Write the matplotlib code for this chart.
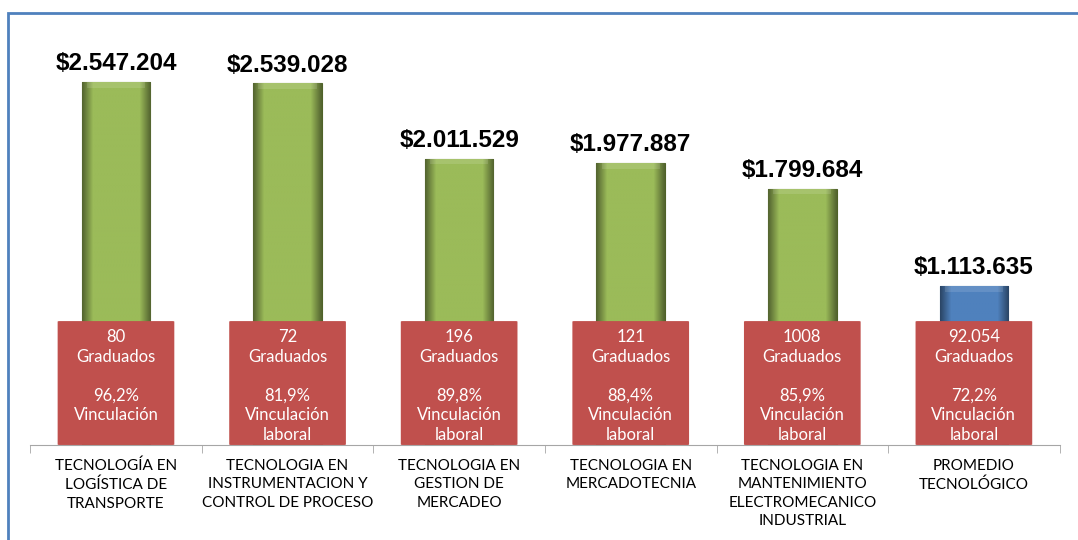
import matplotlib.pyplot as plt
import numpy as np
from matplotlib.colors import to_rgb
from matplotlib.patches import Rectangle, FancyBboxPatch

categories = ["TECNOLOGÍA EN\nLOGÍSTICA DE\nTRANSPORTE",
              "TECNOLOGIA EN\nINSTRUMENTACION Y\nCONTROL DE PROCESO",
              "TECNOLOGIA EN\nGESTION DE\nMERCADEO",
              "TECNOLOGIA EN\nMERCADOTECNIA",
              "TECNOLOGIA EN\nMANTENIMIENTO\nELECTROMECANICO\nINDUSTRIAL",
              "PROMEDIO\nTECNOLÓGICO"]
salaries = [2547204, 2539028, 2011529, 1977887, 1799684, 1113635]
graduados = ["80", "72", "196", "121", "1008", "92.054"]
vinculacion = ["96,2%", "81,9%", "89,8%", "88,4%", "85,9%", "72,2%"]
vinc_text = ["Vinculación", "Vinculación\nlaboral", "Vinculación\nlaboral",
             "Vinculación\nlaboral", "Vinculación\nlaboral", "Vinculación\nlaboral"]
box_height = 870000

def fmt(v):
    return "$" + format(v, ",").replace(",", ".")

x = np.arange(len(categories))
colors = ['#9BBB59'] * 5 + ['#4F81BD']
edges = ['#4F6228'] * 5 + ['#244A78']
bar_w = 0.40

fig = plt.figure(figsize=(10.78, 5.40), dpi=100)
ax = fig.add_axes([0.028, 0.176, 0.955, 0.791])
ax.set_xlim(-0.5, 5.5)
ax.set_ylim(0, 3.0e6)

bars = ax.bar(x, salaries, width=bar_w, color=colors, edgecolor=edges, linewidth=0.8, zorder=2)

# bevel shading: darker toward the sides
prof = np.concatenate([np.linspace(0.55, 1.0, 8), np.ones(30), np.linspace(1.0, 0.55, 8)])
for b, c in zip(bars, colors):
    rgb = np.array(to_rgb(c))
    img = (prof[None, :, None] * rgb[None, None, :])
    x0, y0 = b.get_x(), b.get_y()
    im = ax.imshow(img, extent=(x0, x0 + b.get_width(), y0, y0 + b.get_height()),
                   aspect='auto', zorder=2.5, interpolation='bilinear')
    im.set_clip_path(b)
    # lighter top bevel
    ax.add_patch(Rectangle((x0 + 0.03, b.get_height() - 40000), b.get_width() - 0.06, 40000,
                           facecolor='white', alpha=0.12, edgecolor='none', zorder=2.6))
ax.set_xlim(-0.5, 5.5)
ax.set_ylim(0, 3.0e6)

for xi, v in zip(x, salaries):
    ax.annotate(fmt(v), (xi, v), xytext=(0, 5), textcoords='offset points',
                ha='center', va='bottom', fontsize=17.5, fontweight='bold',
                family='Liberation Sans', color='black')

# red info boxes
for xi, g, p, t in zip(x, graduados, vinculacion, vinc_text):
    box = FancyBboxPatch((xi - 0.34, 0), 0.68, box_height,
                         boxstyle='round,pad=0,rounding_size=0.01',
                         mutation_aspect=4e5, facecolor='#C0504D',
                         edgecolor='none', zorder=4)
    ax.add_patch(box)
    ax.annotate(g + "\nGraduados\n\n" + p + "\n" + t, (xi, box_height),
                xytext=(0, -6), textcoords='offset points',
                ha='center', va='top', fontsize=12, family='Lato',
                color='white', linespacing=1.27, zorder=5)

ax.set_yticks([])
ax.set_xticks(x)
ax.set_xticklabels(categories, fontsize=11, family='Lato', linespacing=1.4, va='top')
ax.set_xticks(np.arange(-0.5, 6.0, 1.0), minor=True)
ax.tick_params(axis='x', which='major', length=0, pad=10)
ax.tick_params(axis='x', which='minor', length=6, color='#A6A6A6')
for s in ['top', 'left', 'right']:
    ax.spines[s].set_visible(False)
ax.spines['bottom'].set_color('#A6A6A6')
ax.spines['bottom'].set_zorder(1)

# blue frame
fig.patches.append(Rectangle((8 / 1078, -0.05), 1.2, 1 - 13 / 540 + 0.05,
                             transform=fig.transFigure, fill=False,
                             edgecolor='#4F81BD', linewidth=2))

fig.savefig('out.png', dpi=100)
